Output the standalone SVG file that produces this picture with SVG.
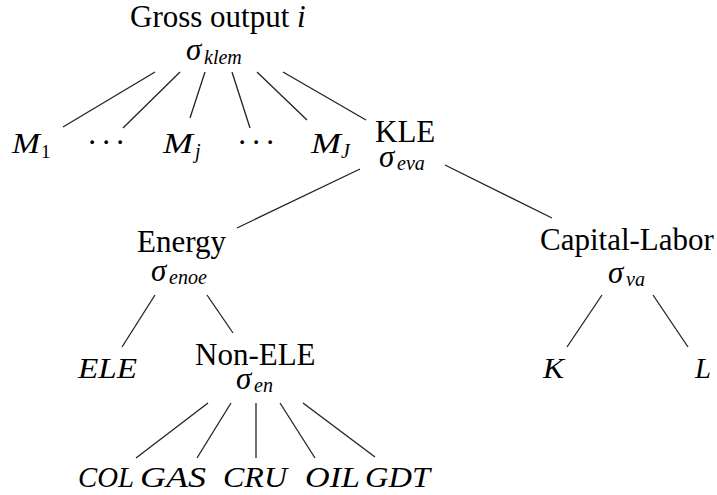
<svg xmlns="http://www.w3.org/2000/svg" width="717" height="495" viewBox="0 0 717 495">
<style>
.t{font-family:"Liberation Serif","Times New Roman",serif;font-size:31px;fill:#000}
.i{font-family:"Liberation Serif","Times New Roman",serif;font-size:29px;font-style:italic;fill:#000}
.s{font-family:"Liberation Serif","Times New Roman",serif;font-size:31px;font-style:italic;fill:#000}
.sub{font-family:"Liberation Serif","Times New Roman",serif;font-size:20px;font-style:italic;fill:#000}
.subu{font-family:"Liberation Serif","Times New Roman",serif;font-size:19px;fill:#000}
.c line{stroke:#222;stroke-width:1.3}
</style>
<rect width="717" height="495" fill="#fff"/>
<g class="c" id="connectors">
<line x1="155" y1="72" x2="63" y2="127"/>
<line x1="180" y1="72" x2="123" y2="128"/>
<line x1="205" y1="72" x2="190" y2="118"/>
<line x1="232" y1="72" x2="250" y2="128"/>
<line x1="257" y1="72" x2="307" y2="120"/>
<line x1="283" y1="72" x2="366" y2="120"/>
<line x1="360" y1="169" x2="237" y2="228"/>
<line x1="445" y1="165" x2="552" y2="218"/>
<line x1="155" y1="295" x2="122" y2="347"/>
<line x1="207" y1="295" x2="233" y2="333"/>
<line x1="602" y1="295" x2="567" y2="347"/>
<line x1="653" y1="295" x2="688" y2="347"/>
<line x1="208" y1="403" x2="136" y2="458"/>
<line x1="231" y1="403" x2="197" y2="458"/>
<line x1="256" y1="403" x2="256" y2="458"/>
<line x1="280" y1="403" x2="315" y2="458"/>
<line x1="303" y1="403" x2="375" y2="457"/>
</g>
<g id="gross">
<text class="t" x="130" y="27">Gross output <tspan font-style="italic">i</tspan></text>
<text class="s" x="186" y="60">σ</text><text class="sub" x="204" y="64">klem</text>
</g>
<g id="m1"><text class="i" x="12" y="153" textLength="28" lengthAdjust="spacingAndGlyphs">M</text><text class="subu" x="41" y="158">1</text></g>
<g id="dots1"><text class="t" x="87 101 115" y="153">···</text></g>
<g id="mj"><text class="i" x="163" y="153" textLength="30" lengthAdjust="spacingAndGlyphs">M</text><text class="sub" x="195" y="158">j</text></g>
<g id="dots2"><text class="t" x="237 251 265" y="153">···</text></g>
<g id="mJ"><text class="i" x="311" y="153" textLength="30" lengthAdjust="spacingAndGlyphs">M</text><text class="sub" x="341" y="158">J</text></g>
<g id="kle">
<text class="t" x="375" y="142">KLE</text>
<text class="s" x="379" y="167">σ</text><text class="sub" x="397" y="170">eva</text>
</g>
<g id="energy">
<text class="t" x="137" y="252">Energy</text>
<text class="s" x="151" y="281">σ</text><text class="sub" x="169" y="284">enoe</text>
</g>
<g id="capital-labor">
<text class="t" x="540" y="250">Capital-Labor</text>
<text class="s" x="608" y="283">σ</text><text class="sub" x="626" y="286">va</text>
</g>
<g id="ele"><text class="i" x="78" y="378" textLength="59" lengthAdjust="spacingAndGlyphs">ELE</text></g>
<g id="non-ele">
<text class="t" x="195" y="365">Non-ELE</text>
<text class="s" x="236" y="389">σ</text><text class="sub" x="254" y="392">en</text>
</g>
<g id="k"><text class="i" x="543" y="378" textLength="21" lengthAdjust="spacingAndGlyphs">K</text></g>
<g id="l"><text class="i" x="695" y="378" textLength="16" lengthAdjust="spacingAndGlyphs">L</text></g>
<g id="col"><text class="i" x="78" y="487" textLength="56" lengthAdjust="spacingAndGlyphs">COL</text></g>
<g id="gas"><text class="i" x="140" y="487" textLength="66" lengthAdjust="spacingAndGlyphs">GAS</text></g>
<g id="cru"><text class="i" x="223" y="487" textLength="64" lengthAdjust="spacingAndGlyphs">CRU</text></g>
<g id="oil"><text class="i" x="305" y="487" textLength="55" lengthAdjust="spacingAndGlyphs">OIL</text></g>
<g id="gdt"><text class="i" x="365" y="487" textLength="65" lengthAdjust="spacingAndGlyphs">GDT</text></g>
</svg>
